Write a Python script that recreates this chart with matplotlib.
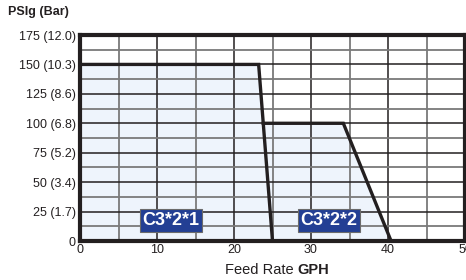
import matplotlib
matplotlib.use("Agg")
import matplotlib.pyplot as plt
import numpy as np

plt.rcParams['font.family'] = ['Liberation Sans', 'DejaVu Sans']

# data
psi_ticks = [0, 25, 50, 75, 100, 125, 150, 175]
psi_labels = ["0", "25 (1.7)", "50 (3.4)", "75 (5.2)", "100 (6.8)",
              "125 (8.6)", "150 (10.3)", "175 (12.0)"]
gph_ticks = [0, 10, 20, 30, 40, 50]

pump1_gph = [0, 23.2, 25.0]
pump1_psi = [150, 150, 0]
pump2_gph = [23.8, 34.2, 40.4]
pump2_psi = [100, 100, 0]

labels = ["C3*2*1", "C3*2*2"]
label_x = [11.8, 32.3]
label_y = [17.3, 17.3]

line_col = "#231f20"
fill_col = "#eef4fc"
box_col = "#233f94"

fig = plt.figure(figsize=(4.66, 2.8), dpi=100)
ax = fig.add_axes([80 / 466, 39 / 280, 385 / 466, 206 / 280])

ax.set_xlim(0, 50)
ax.set_ylim(0, 175)

# fill under the envelope of both curves
ax.fill_between(pump1_gph, pump1_psi, 0, color=fill_col, lw=0, zorder=0)
ax.fill_between(pump2_gph, pump2_psi, 0, color=fill_col, lw=0, zorder=0)

# grid: black every 10 GPH / 25 psi, grey in between
for x in np.arange(5, 50, 5):
    major = x % 10 == 0
    ax.axvline(x, color="#231f20" if major else "#7a7a7a", lw=1.1 if major else 1.3, zorder=1)
for y in np.arange(12.5, 175, 12.5):
    major = y % 25 == 0
    ax.axhline(y, color="#231f20" if major else "#7a7a7a", lw=1.1 if major else 1.3, zorder=1)

ax.plot(pump1_gph, pump1_psi, color=line_col, lw=2.4, zorder=3, solid_joinstyle="miter")
ax.plot(pump2_gph, pump2_psi, color=line_col, lw=2.4, zorder=3, solid_joinstyle="miter")

for txt, x, y in zip(labels, label_x, label_y):
    ax.text(x, y, txt, ha="center", va="center", color="white", fontsize=13,
            fontweight="bold", zorder=4,
            bbox=dict(boxstyle="square,pad=0.15", facecolor=box_col,
                      edgecolor="#6b6b6b", lw=0.8))

for s in ax.spines.values():
    s.set_linewidth(3)
    s.set_color(line_col)
    s.set_zorder(5)

ax.set_yticks(psi_ticks)
ax.set_yticklabels(psi_labels)
ax.set_xticks(gph_ticks)
ax.tick_params(length=0, labelsize=9, colors="#231f20", pad=3)
ax.tick_params(axis="x", pad=2)

fig.text(8 / 466, 1 - 12 / 280, "PSIg (Bar)", fontsize=9, fontweight="bold",
         ha="left", va="center", color="#231f20")
fig.text(294 / 466, 1 - 270 / 280, "Feed Rate", fontsize=10.5,
         ha="right", va="center", color="#231f20")
fig.text(297 / 466, 1 - 270 / 280, "GPH", fontsize=10.5, fontweight="bold",
         ha="left", va="center", color="#231f20")

fig.savefig("out.png", dpi=100)
